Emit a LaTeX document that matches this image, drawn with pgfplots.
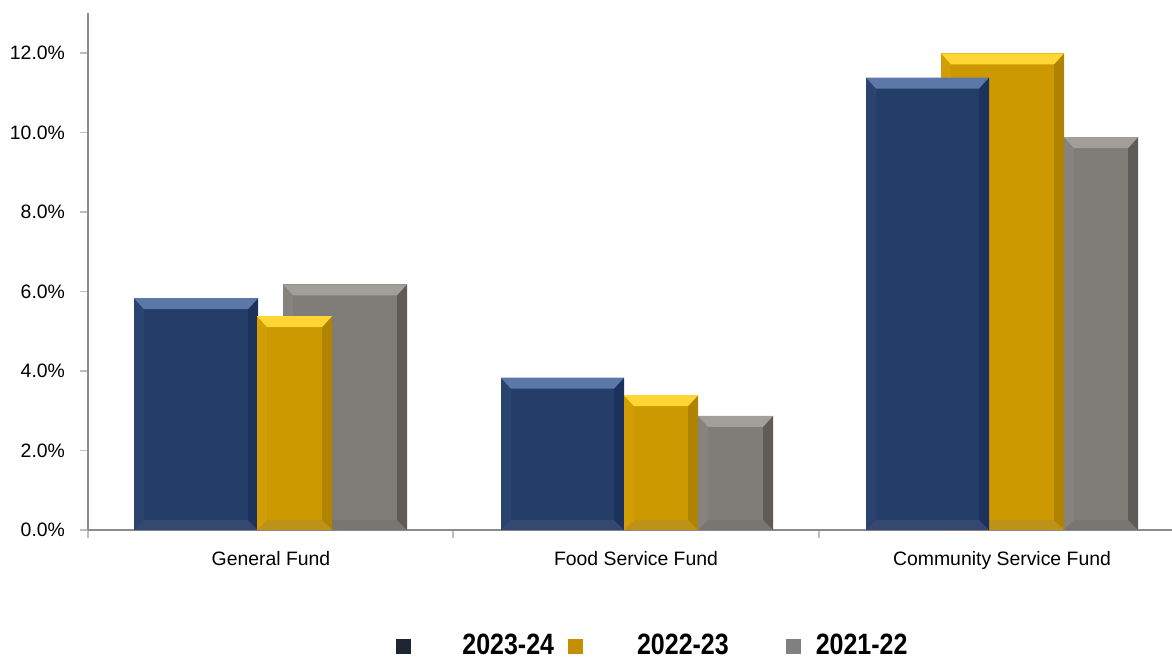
\documentclass[border=0pt]{standalone}
\usepackage{fontspec}
\setmainfont{Liberation Sans}
\newfontfamily\legendfont[FakeStretch=0.85]{Liberation Sans}
\usepackage{pgfplots}
\pgfplotsset{compat=1.18}

\definecolor{axisgray}{RGB}{140,140,140}
\definecolor{tickgray}{RGB}{190,190,190}
% 2023-24
\definecolor{navy}{RGB}{36,62,105}
\definecolor{navytop}{RGB}{91,120,168}
\definecolor{navyright}{RGB}{28,50,92}
\definecolor{navyleft}{RGB}{42,68,111}
\definecolor{navybot}{RGB}{52,72,112}
% 2022-23
\definecolor{gold}{RGB}{204,153,0}
\definecolor{goldtop}{RGB}{255,214,51}
\definecolor{goldright}{RGB}{176,132,0}
\definecolor{goldleft}{RGB}{210,158,6}
\definecolor{goldbot}{RGB}{190,146,24}
% 2021-22
\definecolor{stone}{RGB}{128,124,120}
\definecolor{stonetop}{RGB}{162,158,154}
\definecolor{stoneright}{RGB}{95,91,88}
\definecolor{stoneleft}{RGB}{134,130,126}
\definecolor{stonebot}{RGB}{120,117,114}
% legend squares
\definecolor{leg1}{RGB}{31,38,51}
\definecolor{leg2}{RGB}{196,144,0}
\definecolor{leg3}{RGB}{128,128,128}

\def\bb{path picture bounding box}
\tikzset{
  bevel/.style n args={5}{fill=#1, draw=none, path picture={
    \fill[#4, path picture={}] (\bb.south west) -- (\bb.north west) -- ([shift={(5bp,-5bp)}]\bb.north west) -- ([shift={(5bp,5bp)}]\bb.south west) -- cycle;
    \fill[#5, path picture={}] (\bb.south west) -- (\bb.south east) -- ([shift={(-5bp,5bp)}]\bb.south east) -- ([shift={(5bp,5bp)}]\bb.south west) -- cycle;
    \fill[#3, path picture={}] (\bb.north east) -- (\bb.south east) -- ([shift={(-5bp,5bp)}]\bb.south east) -- ([shift={(-5bp,-5bp)}]\bb.north east) -- cycle;
    \fill[#2, path picture={}] (\bb.north west) -- (\bb.north east) -- ([shift={(-5bp,-5.5bp)}]\bb.north east) -- ([shift={(5bp,-5.5bp)}]\bb.north west) -- cycle;
  }},
  s1/.style={bevel={navy}{navytop}{navyright}{navyleft}{navybot}},
  s2/.style={bevel={gold}{goldtop}{goldright}{goldleft}{goldbot}},
  s3/.style={bevel={stone}{stonetop}{stoneright}{stoneleft}{stonebot}},
}
\pgfplotsset{onebar/.style={ybar, bar shift=0pt, bar width=#1, forget plot}}

\begin{document}
\begin{tikzpicture}
\begin{axis}[
    scale only axis,
    width=542bp, height=258.4bp,
    xmin=88, xmax=1172,
    ymin=0, ymax=13,
    axis lines*=left,
    axis line style={draw=axisgray, line width=0.75bp},
    xtick={88,453,819},
    xticklabels={General Fund, Food Service Fund, Community Service Fund},
    xticklabel style={xshift=91.5bp, yshift=-3bp},
    ytick={0,2,...,12},
    yticklabel={\pgfmathprintnumber[fixed,fixed zerofill,precision=1]{\tick}\%},
    yticklabel style={xshift=-4bp},
    /pgf/number format/assume math mode=true,
    tick align=outside,
    major tick length=4bp,
    tick style={draw=tickgray, line width=0.75bp},
    tick label style={font=\fontsize{9.7bp}{11bp}\selectfont},
    legend image code/.code={\fill[#1, draw=none] (0bp,-3.75bp) rectangle (7.5bp,3.75bp);},
    legend columns=3,
    legend style={draw=none, fill=none, inner sep=0pt, column sep=0pt,
      at={(rel axis cs:0.2841,-0.2245)}, anchor=west,
      nodes={inner sep=0pt},
      font=\legendfont\bfseries\fontsize{14.7bp}{16bp}\selectfont},
    clip=false,
]
% General Fund
\addplot[onebar=124, s1] coordinates {(196,5.83)};
\addplot[onebar=124, s3] coordinates {(345,6.18)};
\addplot[onebar=75, s2] coordinates {(294.5,5.38)};
% Food Service Fund
\addplot[onebar=123, s1] coordinates {(562.5,3.83)};
\addplot[onebar=74, s2] coordinates {(661,3.39)};
\addplot[onebar=75, s3] coordinates {(735.5,2.87)};
% Community Service Fund
\addplot[onebar=123, s2] coordinates {(1002.5,11.99)};
\addplot[onebar=123, s1] coordinates {(927.5,11.38)};
\addplot[onebar=74, s3] coordinates {(1101,9.88)};

\addlegendimage{fill=leg1, draw=none}
\addlegendentry{\hspace*{25.5bp}2023-24\hspace*{7bp}}
\addlegendimage{fill=leg2, draw=none}
\addlegendentry{\hspace*{27bp}2022-23\hspace*{28.5bp}}
\addlegendimage{fill=leg3, draw=none}
\addlegendentry{\hspace*{7.5bp}2021-22}
\end{axis}
\pgfresetboundingbox
\useasboundingbox (-44bp,-65.5bp) rectangle (542bp,265bp);
\end{tikzpicture}
\end{document}
